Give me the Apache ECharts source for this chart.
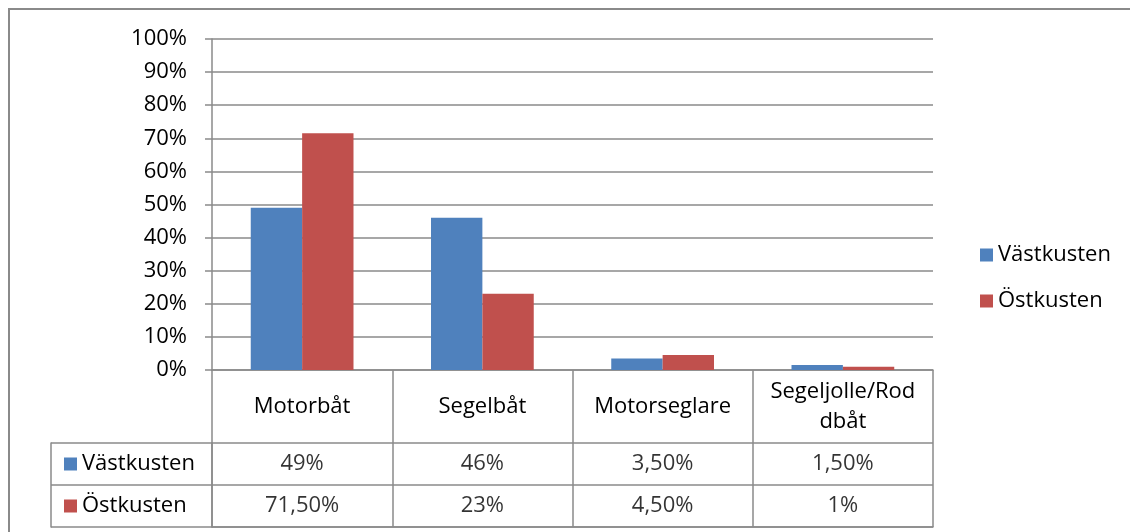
<!DOCTYPE html>
<html>
<head>
<meta charset="utf-8">
<script src="https://cdn.jsdelivr.net/npm/echarts@6/dist/echarts.min.js"></script>
<style>
  html, body { margin: 0; padding: 0; background: #fff; }
  #chart { width: 1130px; height: 532px; }
</style>
</head>
<body>
<div id="chart"></div>
<script>
// data
const categories = ['Motorbåt', 'Segelbåt', 'Motorseglare', 'Segeljolle/Rod\ndbåt']
const seriesNames = ['Västkusten', 'Östkusten']
const vastkusten = [49, 46, 3.5, 1.5]
const ostkusten = [71.5, 23, 4.5, 1]
const colors = ['#4F81BD', '#C0504D']
const yMin = 0
const yMax = 100
const yStep = 10

const FONT = 'Open Sans'
const FS = 22
const GREY = '#8a8a8a'

// Swedish style percent: 49% / 3,50%
function fmt(v) {
  return Number.isInteger(v) ? v + '%' : v.toFixed(2).replace('.', ',') + '%'
}

const rows = [vastkusten, ostkusten]
const tableData = []
rows.forEach((vals, r) => {
  vals.forEach((v, i) => {
    tableData.push([i, seriesNames[r], v])
  })
})

const chart = echarts.init(document.getElementById('chart'))
chart.setOption({
  animation: false,
  textStyle: { fontFamily: FONT },
  graphic: [{
    type: 'rect',
    shape: { x: 9, y: 9, width: 1300, height: 700 },
    style: { fill: 'none', stroke: GREY, lineWidth: 2 },
    silent: true
  }],
  legend: {
    data: seriesNames,
    orient: 'vertical',
    left: 975,
    top: 239,
    icon: 'rect',
    itemWidth: 13,
    itemHeight: 13,
    itemGap: 24,
    textStyle: { fontFamily: FONT, fontSize: FS, color: '#000' }
  },
  grid: [
    { left: 212, right: 197, top: 39, bottom: 162 },
    { left: 212, right: 197, top: 443, bottom: 5 }
  ],
  xAxis: [
    {
      type: 'category',
      gridIndex: 0,
      data: categories,
      axisLine: { lineStyle: { color: GREY, width: 1.5 } },
      axisTick: { show: true, length: 73, interval: 0, lineStyle: { color: GREY, width: 1.5 } },
      axisLabel: {
        interval: 0,
        margin: 37,
        verticalAlign: 'middle',
        lineHeight: 30,
        fontSize: FS,
        color: '#000',
        fontFamily: FONT
      }
    },
    {
      type: 'category',
      gridIndex: 1,
      data: categories,
      axisLine: { show: true, lineStyle: { color: GREY, width: 1.5 } },
      axisTick: { show: false },
      axisLabel: { show: false },
      splitLine: { show: true, interval: 0, lineStyle: { color: GREY, width: 1.5 } }
    }
  ],
  yAxis: [
    {
      type: 'value',
      gridIndex: 0,
      min: yMin,
      max: yMax,
      interval: yStep,
      axisLine: { show: true, lineStyle: { color: GREY, width: 1.5 } },
      axisTick: { show: true, length: 7, lineStyle: { color: GREY, width: 1.5 } },
      axisLabel: {
        formatter: v => v + '%',
        margin: 25,
        fontSize: FS,
        color: '#000',
        fontFamily: FONT
      },
      splitLine: { lineStyle: { color: GREY, width: 1.5 } }
    },
    {
      type: 'category',
      gridIndex: 1,
      data: seriesNames,
      inverse: true,
      axisLine: { show: true, lineStyle: { color: GREY, width: 1.5 } },
      axisTick: { show: true, length: 161, interval: 0, lineStyle: { color: GREY, width: 1.5 } },
      axisLabel: {
        align: 'left',
        margin: 148,
        fontSize: FS,
        color: '#000',
        fontFamily: FONT,
        formatter: v => '{' + (v === seriesNames[0] ? 'a' : 'b') + '|}{t|' + v + '}',
        rich: {
          a: { width: 13, height: 13, backgroundColor: colors[0] },
          b: { width: 13, height: 13, backgroundColor: colors[1] },
          t: { fontSize: FS, color: '#000', fontFamily: FONT, padding: [0, 0, 0, 5] }
        }
      },
      splitLine: { show: true, interval: 0, lineStyle: { color: GREY, width: 1.5 } }
    },
    {
      // left edge of the table
      type: 'category',
      gridIndex: 1,
      data: seriesNames,
      position: 'left',
      offset: 161,
      axisLine: { show: true, lineStyle: { color: GREY, width: 1.5 } },
      axisTick: { show: false },
      axisLabel: { show: false }
    }
  ],
  series: [
    {
      name: seriesNames[0],
      type: 'bar',
      data: vastkusten,
      itemStyle: { color: colors[0] },
      barGap: '0%',
      barCategoryGap: '43%'
    },
    {
      name: seriesNames[1],
      type: 'bar',
      data: ostkusten,
      itemStyle: { color: colors[1] },
      barGap: '0%',
      barCategoryGap: '43%'
    },
    {
      type: 'scatter',
      xAxisIndex: 1,
      yAxisIndex: 1,
      symbolSize: 0,
      silent: true,
      data: tableData,
      label: {
        show: true,
        position: 'inside',
        formatter: p => fmt(p.value[2]),
        fontSize: FS,
        color: '#000',
        fontFamily: FONT
      }
    }
  ]
})
</script>
</body>
</html>
